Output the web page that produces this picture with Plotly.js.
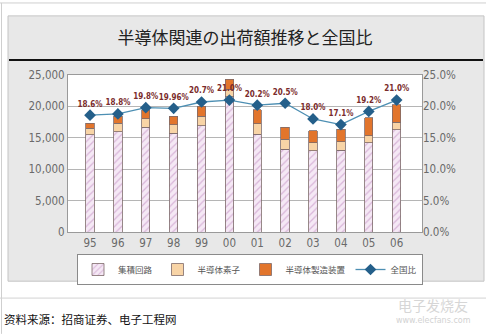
<!DOCTYPE html>
<html>
<head>
<meta charset="utf-8">
<script src="https://cdn.plot.ly/plotly-3.0.1.min.js"></script>
<style>
html,body{margin:0;padding:0;background:#fff;}
#chart{width:486px;height:335px;}
</style>
</head>
<body>
<div id="chart"></div>
<script>
var years = ['95','96','97','98','99','00','01','02','03','04','05','06'];
var icValues = [15500, 16000, 16700, 15700, 16900, 21500, 15600, 13200, 12900, 13000, 14200, 16300];
var elementValues = [1000, 1300, 1350, 1400, 1550, 1200, 1600, 1550, 1300, 1400, 1100, 1200];
var equipmentValues = [800, 1100, 1450, 1300, 1600, 1600, 2300, 1900, 1900, 2000, 2900, 2800];
var shareValues = [18.6, 18.8, 19.8, 19.7, 20.7, 21.0, 20.2, 20.5, 18.0, 17.1, 19.2, 21.0];
var shareLabels = ['18.6%','18.8%','19.8%','19.96%','20.7%','21.0%','20.2%','20.5%','18.0%','17.1%','19.2%','21.0%'];
var leftTickVals = [0, 5000, 10000, 15000, 20000, 25000];
var leftTickText = ['0','5,000','10,000','15,000','20,000','25,000'];
var rightTickVals = [0, 5, 10, 15, 20, 25];
var rightTickText = ['0.0%','5.0%','10.0%','15.0%','20.0%','25.0%'];
var seriesNames = ['集積回路','半導体素子','半導体製造装置','全国比'];

// plot area in pixels: x 68..422, y 74.5..232.5
var L = 68, R = 422, T = 74.5, B = 232.5;
function px(x){ return (x - L) / (R - L); }
function py(y){ return (B - y) / (B - T); }

var tickFont = {family: 'DejaVu Sans Condensed, DejaVu Sans, sans-serif', size: 11.5, color: '#6a6a6a'};
var barLine = {color: '#7d6a6a', width: 0.8};

var traces = [
  {type: 'bar', name: seriesNames[0], x: years, y: icValues,
   marker: {color: '#f3e3f3', line: barLine,
            pattern: {shape: '/', fgcolor: '#d9b6d9', bgcolor: '#f5e8f5', size: 5, solidity: 0.25}}},
  {type: 'bar', name: seriesNames[1], x: years, y: elementValues,
   marker: {color: '#f8d4a6', line: barLine}},
  {type: 'bar', name: seriesNames[2], x: years, y: equipmentValues,
   marker: {color: '#e2752c', line: barLine}},
  {type: 'scatter', name: seriesNames[3], x: years, y: shareValues, yaxis: 'y2',
   mode: 'lines+markers+text', text: shareLabels, textposition: 'top center',
   textfont: {family: 'DejaVu Sans Condensed, DejaVu Sans, sans-serif', size: 8, color: '#7a2b2b', weight: 'bold'},
   line: {color: '#4d8fb3', width: 1.3},
   marker: {symbol: 'diamond', size: 9, color: '#245f8a', line: {color: '#245f8a', width: 0}},
   cliponaxis: false}
];

var layout = {
  width: 486, height: 335,
  margin: {l: L, r: 486 - R, t: T, b: 335 - B, pad: 0},
  paper_bgcolor: '#ffffff',
  plot_bgcolor: '#ffffff',
  barmode: 'stack',
  bargap: 0.7,
  showlegend: true,
  font: {family: 'Noto Sans CJK JP, sans-serif'},
  title: {text: '半導体関連の出荷額推移と全国比', x: 0.5, xref: 'paper', y: 1 - 38/335, yanchor: 'middle',
          font: {family: 'Noto Sans CJK JP, sans-serif', size: 17, color: '#222222'}},
  xaxis: {type: 'category', range: [-0.79, 11.91], tickfont: tickFont, ticks: '',
          showline: true, linecolor: '#9a9a9a', linewidth: 1, mirror: true, showgrid: false,
          fixedrange: true},
  yaxis: {range: [0, 25000], tickvals: leftTickVals, ticktext: leftTickText, tickfont: tickFont,
          showgrid: true, gridcolor: '#b5b5b5', gridwidth: 1, zeroline: false,
          showline: true, linecolor: '#9a9a9a', linewidth: 1, mirror: true, ticks: '', ticklen: 0},
  yaxis2: {overlaying: 'y', side: 'right', range: [0, 25], tickvals: rightTickVals, ticktext: rightTickText,
           tickfont: tickFont, showgrid: false, zeroline: false, showline: false, ticks: ''},
  legend: {orientation: 'h', xref: 'container', x: 250/486, xanchor: 'center',
           yref: 'container', y: 1 - 254/335, yanchor: 'top',
           bgcolor: '#ffffff', bordercolor: '#8a8a8a', borderwidth: 1,
           font: {family: 'Noto Sans CJK JP, sans-serif', size: 8.5, color: '#555555'},
           traceorder: 'normal', itemwidth: 30, tracegroupgap: 0},
  shapes: [
    {type: 'line', xref: 'paper', yref: 'paper', x0: px(0), x1: px(486), y0: py(2), y1: py(2), line: {color: '#cfcfcf', width: 1}, layer: 'below'},
    {type: 'line', xref: 'paper', yref: 'paper', x0: px(1.5), x1: px(1.5), y0: py(2), y1: py(335), line: {color: '#cfcfcf', width: 1}, layer: 'below'},
    {type: 'line', xref: 'paper', yref: 'paper', x0: px(0), x1: px(486), y0: py(299), y1: py(299), line: {color: '#d2d2d2', width: 1}, layer: 'below'},
    {type: 'rect', xref: 'paper', yref: 'paper', x0: px(8), x1: px(484), y0: py(282), y1: py(15),
     fillcolor: '#e8e8e8', line: {color: '#c4c4c4', width: 1}, layer: 'below'},
    {type: 'rect', xref: 'paper', yref: 'paper', x0: 0, x1: 1, y0: 0, y1: 1,
     fillcolor: '#ffffff', line: {width: 0}, layer: 'below'},
    {type: 'line', xref: 'paper', yref: 'paper', x0: px(9), x1: px(483), y0: py(59.5), y1: py(59.5),
     line: {color: '#111111', width: 2}}
  ],
  annotations: [
    {text: '资料来源：招商证券、电子工程网', xref: 'paper', yref: 'paper', x: px(2), y: py(320),
     xanchor: 'left', yanchor: 'middle', showarrow: false,
     font: {family: 'Noto Sans CJK SC, sans-serif', size: 11.5, color: '#111111'}},
    {text: '电子发烧友', xref: 'paper', yref: 'paper', x: px(433), y: py(306),
     xanchor: 'center', yanchor: 'middle', showarrow: false,
     font: {family: 'Noto Sans CJK SC, sans-serif', size: 14, color: '#d6d6d6'}},
    {text: 'www.elecfans.com', xref: 'paper', yref: 'paper', x: px(433), y: py(322),
     xanchor: 'center', yanchor: 'middle', showarrow: false,
     font: {family: 'DejaVu Sans, sans-serif', size: 8, color: '#d2d2d2'}}
  ]
};

Plotly.newPlot('chart', traces, layout, {displayModeBar: false, staticPlot: true});
</script>
</body>
</html>
